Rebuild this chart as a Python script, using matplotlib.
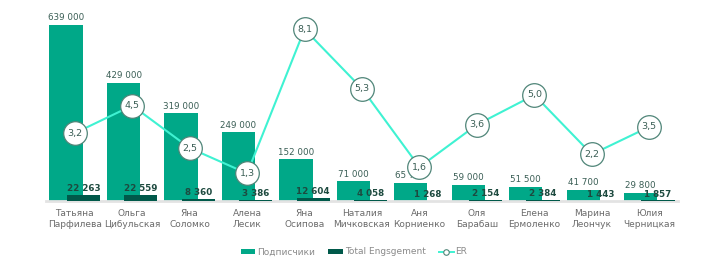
import matplotlib.pyplot as plt
import numpy as np
from matplotlib.lines import Line2D

# Дані
names = ["Татьяна\nПарфилева", "Ольга\nЦибульская", "Яна\nСоломко", "Алена\nЛесик",
         "Яна\nОсипова", "Наталия\nМичковская", "Аня\nКорниенко", "Оля\nБарабаш",
         "Елена\nЕрмоленко", "Марина\nЛеончук", "Юлия\nЧерницкая"]
subscribers = [639000, 429000, 319000, 249000, 152000, 71000, 65700, 59000, 51500, 41700, 29800]
engagement = [22263, 22559, 8360, 3386, 12604, 4058, 1268, 2154, 2384, 1443, 1857]
er = [3.2, 4.5, 2.5, 1.3, 8.1, 5.3, 1.6, 3.6, 5.0, 2.2, 3.5]

plt.rcParams['font.family'] = ['DejaVu Sans']

c_sub = '#00a888'
c_eng = '#00594a'
c_line = '#3ff2d2'
c_edge = '#4f8578'
c_txt = '#3a5e55'
c_gray = '#6b6b6b'


def fmt(v):
    return f"{v:,}".replace(",", " ")


fig = plt.figure(figsize=(7.05, 2.64), dpi=100)
ax = fig.add_axes([46 / 705, 63 / 264, 632 / 705, 193 / 264])
x = np.arange(len(names))
w = 0.58
off = 0.15

b1 = ax.bar(x - off, subscribers, width=w, color=c_sub, label='Подписчики', zorder=2)
b2 = ax.bar(x + off, engagement, width=w, color=c_eng, label='Total Engsgement', zorder=3)

ax.set_xlim(-0.5, len(names) - 0.5)
ax.set_ylim(0, 700000)

for bar, v in zip(b1, subscribers):
    ax.text(bar.get_x() + bar.get_width() / 2, v + 9000, fmt(v), ha='center', va='bottom',
            fontsize=6.3, color=c_txt, zorder=4)
for bar, v in zip(b2, engagement):
    ax.text(bar.get_x() + bar.get_width() / 2, v + 7000, fmt(v), ha='center', va='bottom',
            fontsize=6.3, color='#1d4a3f', fontweight='bold', zorder=4)

ax.set_xticks(x)
ax.set_xticklabels(names, fontsize=6.5, color=c_gray, linespacing=1.2)
ax.tick_params(axis='x', length=0, pad=6)
ax.set_yticks([])
for s in ['top', 'right', 'left']:
    ax.spines[s].set_visible(False)
ax.spines['bottom'].set_color('#e3e3e3')
ax.spines['bottom'].set_linewidth(2)

ax2 = ax.twinx()
ax2.set_ylim(0, 193 / 21.2)
ax2.plot(x, er, color=c_line, lw=1.5, marker='o', markersize=17,
         markerfacecolor='white', markeredgecolor=c_edge, markeredgewidth=0.9,
         label='ER', zorder=5)
for xi, v in zip(x, er):
    ax2.text(xi, v, f"{v:.1f}".replace(".", ","), ha='center', va='center',
             fontsize=6.8, color=c_txt, zorder=6)
ax2.set_yticks([])
for s in ['top', 'right', 'left', 'bottom']:
    ax2.spines[s].set_visible(False)

# Легенда
leg_line = Line2D([], [], color=c_line, lw=1.4, marker='o', markersize=4,
                  markerfacecolor='white', markeredgecolor=c_edge, markeredgewidth=0.8)
fig.legend([b1, b2, leg_line], ['Подписчики', 'Total Engsgement', 'ER'],
           loc='center', bbox_to_anchor=(354 / 705, 1 - 252 / 264), ncol=3, frameon=False,
           fontsize=6.5, labelcolor='#8a8a8a', handlelength=1.6, handleheight=0.5,
           handletextpad=0.2, columnspacing=1.5)

fig.savefig('out.png', dpi=100)
